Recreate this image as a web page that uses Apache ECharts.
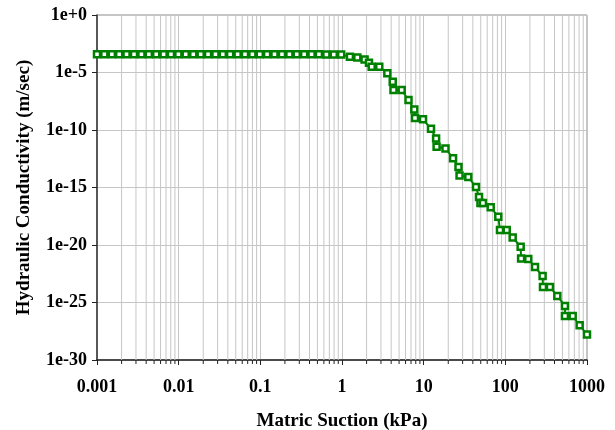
<!DOCTYPE html>
<html>
<head>
<meta charset="utf-8">
<style>
  html, body { margin: 0; padding: 0; background: #fff; }
  #chart { width: 615px; height: 430px; }
</style>
<script src="https://cdn.jsdelivr.net/npm/echarts@6/dist/echarts.min.js"></script>
</head>
<body>
<div id="chart"></div>
<script>
// matric suction (kPa)
const suction = [
  0.001, 0.00123, 0.00152, 0.00187, 0.0023, 0.00284, 0.0035, 0.00431, 0.00531, 0.00654,
  0.00805, 0.00992, 0.0122, 0.0151, 0.0186, 0.0229, 0.0282, 0.0347, 0.0427, 0.0527,
  0.0649, 0.0799, 0.0984, 0.121, 0.149, 0.184, 0.227, 0.279, 0.344, 0.424,
  0.522, 0.644, 0.793, 0.977,
  1.25, 1.54, 1.89, 2.14, 2.31, 2.86, 3.59, 4.18, 4.27, 5.38,
  6.52, 7.68, 7.83, 9.82, 12.3, 14.2, 14.4, 18.5, 22.9, 26.7,
  27.5, 35.2, 43.7, 47.6, 49.6, 53.2, 66.2, 82.0, 86.0, 104,
  123, 154, 156, 191, 231, 286, 289, 352, 433, 537,
  537, 668, 813, 1000
]

// hydraulic conductivity (m/sec)
const conductivity = [
  3.83e-4, 3.83e-4, 3.83e-4, 3.83e-4, 3.83e-4, 3.83e-4, 3.83e-4, 3.83e-4, 3.83e-4, 3.83e-4,
  3.83e-4, 3.83e-4, 3.83e-4, 3.83e-4, 3.83e-4, 3.83e-4, 3.83e-4, 3.83e-4, 3.83e-4, 3.83e-4,
  3.83e-4, 3.83e-4, 3.83e-4, 3.83e-4, 3.83e-4, 3.83e-4, 3.83e-4, 3.83e-4, 3.83e-4, 3.83e-4,
  3.8e-4, 3.75e-4, 3.7e-4, 3.6e-4,
  2.37e-4, 2.0e-4, 1.35e-4, 7.1e-5, 3.2e-5, 3.2e-5, 8.5e-6, 1.6e-6, 3.0e-7, 3.0e-7,
  4.1e-8, 6.0e-9, 1.1e-9, 8.5e-10, 1.27e-10, 1.8e-11, 3.5e-12, 2.5e-12, 3.5e-13, 6.0e-14,
  1.1e-14, 8.2e-15, 1.1e-15, 1.5e-16, 4.5e-17, 4.5e-17, 1.9e-17, 2.9e-18, 2.0e-19, 2.0e-19,
  4.5e-20, 7.1e-21, 6.7e-22, 6.0e-22, 1.2e-22, 2.0e-23, 2.2e-24, 2.2e-24, 3.7e-25, 5.0e-26,
  6.7e-27, 6.7e-27, 1.05e-27, 1.65e-28
]

const xLabels = [0.001, 0.01, 0.1, 1, 10, 100, 1000]
const xMultipliers = [2, 3, 4, 5, 6, 7, 8, 9]
const yLabels = ['1e+0', '1e-5', '1e-10', '1e-15', '1e-20', '1e-25', '1e-30']

const FONT = '"Liberation Serif", "Times New Roman", serif'
const GREEN = '#008000'
const GRID_GRAY = '#c6c6c6'

// minor positions 2..9 inside each decade
const xMinor = []
xLabels.slice(0, -1).forEach(v => {
  xMultipliers.forEach(m => xMinor.push(+(v * m).toPrecision(3)))
})
const yTicks = yLabels.map(Number)

function formatExp(val) {
  const e = Math.round(Math.log10(val))
  return '1e' + (e >= 0 ? '+' : '') + e
}

const chart = echarts.init(document.getElementById('chart'))

chart.setOption({
  animation: false,
  grid: {
    left: 97,
    right: 28,
    top: 15,
    bottom: 70,
    outerBoundsMode: 'none',
    show: true,
    borderColor: '#8a8a8a',
    borderWidth: 1
  },
  xAxis: {
    type: 'log',
    logBase: 10,
    min: 0.001,
    max: 1000,
    name: 'Matric Suction (kPa)',
    nameLocation: 'middle',
    nameGap: 52,
    nameMoveOverlap: false,
    nameTextStyle: { fontFamily: FONT, fontWeight: 'bold', fontSize: 19, color: '#000' },
    axisLine: { onZero: false, lineStyle: { color: '#222', width: 1.5 } },
    axisTick: { length: 5, lineStyle: { color: '#222' } },
    axisLabel: {
      margin: 18,
      showMinLabel: true,
      showMaxLabel: true,
      hideOverlap: false,
      fontFamily: FONT,
      fontWeight: 'bold',
      fontSize: 18,
      color: '#000',
      formatter: v => String(v)
    },
    splitLine: { show: true, lineStyle: { color: GRID_GRAY, width: 1 } }
  },
  yAxis: {
    type: 'log',
    logBase: 10,
    min: 1e-30,
    max: 1,
    interval: 5,
    name: 'Hydraulic Conductivity (m/sec)',
    nameLocation: 'middle',
    nameGap: 63,
    nameMoveOverlap: false,
    nameTextStyle: { fontFamily: FONT, fontWeight: 'bold', fontSize: 19, color: '#000' },
    axisLine: { onZero: false, lineStyle: { color: '#333', width: 1.5 } },
    axisTick: { show: true, customValues: yTicks, length: 5, lineStyle: { color: '#222' } },
    axisLabel: {
      customValues: yTicks,
      margin: 10,
      showMinLabel: true,
      showMaxLabel: true,
      hideOverlap: false,
      fontFamily: FONT,
      fontWeight: 'bold',
      fontSize: 18,
      color: '#000',
      formatter: formatExp
    },
    splitLine: { show: true, lineStyle: { color: GRID_GRAY, width: 1 } }
  },
  series: [
    {
      type: 'custom',
      silent: true,
      z: 1,
      data: xMinor.map(v => [v]),
      renderItem(params, api) {
        const top = api.coord([api.value(0), 1])
        const bottom = api.coord([api.value(0), 1e-30])
        return {
          type: 'group',
          children: [
            { type: 'line', shape: { x1: top[0], y1: top[1], x2: bottom[0], y2: bottom[1] },
              style: { stroke: GRID_GRAY, lineWidth: 1 } },
            { type: 'line', shape: { x1: bottom[0], y1: bottom[1], x2: bottom[0], y2: bottom[1] + 4 },
              style: { stroke: '#222', lineWidth: 1 } }
          ]
        }
      }
    },
    {
      type: 'line',
      z: 3,
      data: suction.map((s, i) => [s, conductivity[i]]),
      symbol: 'rect',
      symbolSize: 6,
      clip: false,
      lineStyle: { color: GREEN, width: 2 },
      itemStyle: { color: '#fff', borderColor: GREEN, borderWidth: 2.5 }
    }
  ]
})
</script>
</body>
</html>
